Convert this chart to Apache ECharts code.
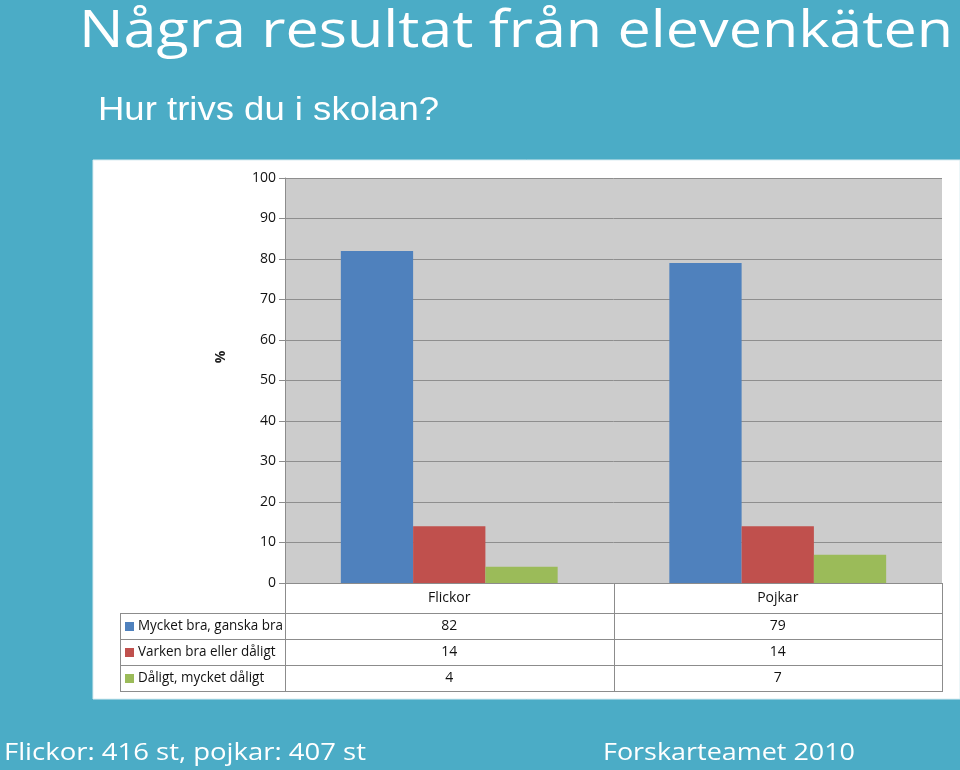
<!DOCTYPE html>
<html>
<head>
<meta charset="utf-8">
<script src="https://cdn.jsdelivr.net/npm/echarts@6/dist/echarts.min.js"></script>
<style>
html,body{margin:0;padding:0;background:#4BACC6;}
#chart{width:960px;height:770px;}
</style>
</head>
<body>
<div id="chart"></div>
<script>
// ---- data ----
const categories = ['Flickor', 'Pojkar'];
const seriesNames = ['Mycket bra, ganska bra', 'Varken bra eller dåligt', 'Dåligt, mycket dåligt'];
const mycketBra = [82, 79];
const varkenBra = [14, 14];
const daligt = [4, 7];
const yMin = 0, yMax = 100, yInterval = 10;
const titleText = 'Några resultat från elevenkäten';
const subtitleText = 'Hur trivs du i skolan?';
const footerLeft = 'Flickor: 416 st, pojkar: 407 st';
const footerRight = 'Forskarteamet 2010';
const yAxisName = '%';

// ---- layout / style ----
const colors = ['#4F81BD', '#C0504D', '#9BBB59'];
const seriesData = [mycketBra, varkenBra, daligt];
const GL = 285, GT = 178, GW = 657, GH = 405;
const GB = GT + GH;
const HEADER_BOTTOM = 613, ROW_H = 26, TABLE_LEFT = 120;
const lineCol = '#8c8c8c';
const FONT = '"Open Sans", "Noto Sans", sans-serif';

const mctx = document.createElement('canvas').getContext('2d');
function fit(text, font, target) {
  mctx.font = font;
  return target / mctx.measureText(text).width;
}

function textEl(text, x, yMid, size, family, scaleX, color, weight) {
  return {
    type: 'text', x: x, y: yMid, scaleX: scaleX, z: 10,
    style: {
      text: text, fill: color || '#fff', fontSize: size, fontFamily: family, fontWeight: weight || 'normal',
      align: 'left', verticalAlign: 'middle', textAlign: 'left', textVerticalAlign: 'middle'
    }
  };
}
function scaledText(text, x, yMid, size, family, target) {
  return textEl(text, x, yMid, size, family, fit(text, size + 'px ' + family, target));
}

const graphic = [];
// white panel
graphic.push({ type: 'rect', z: -10, shape: { x: 93, y: 160, width: 867, height: 539 },
  style: { fill: '#ffffff', stroke: '#d9ecf1', lineWidth: 1 } });
// titles
graphic.push(scaledText(titleText, 79, 32, 52, FONT, 874));
graphic.push(scaledText(subtitleText, 98, 111, 33, '"Liberation Sans", Arial, sans-serif', 341));
graphic.push(scaledText(footerLeft, 4, 753, 24, FONT, 362));
graphic.push(scaledText(footerRight, 603, 753, 24, FONT, 252));
// y axis name
graphic.push({ type: 'text', x: 221, y: 357, rotation: Math.PI / 2, z: 10,
  style: { text: yAxisName, fill: '#222', fontSize: 14, fontWeight: 'bold', fontFamily: FONT,
    align: 'center', verticalAlign: 'middle', textAlign: 'center', textVerticalAlign: 'middle' } });

// data table
const colW = GW / categories.length;
const tableBottom = HEADER_BOTTOM + ROW_H * seriesNames.length;
function hline(x1, x2, y) {
  graphic.push({ type: 'line', z: 5, shape: { x1: x1, y1: y + 0.5, x2: x2, y2: y + 0.5 },
    style: { stroke: lineCol, lineWidth: 1 } });
}
function vline(x, y1, y2) {
  graphic.push({ type: 'line', z: 5, shape: { x1: x + 0.5, y1: y1, x2: x + 0.5, y2: y2 },
    style: { stroke: lineCol, lineWidth: 1 } });
}
for (let r = 0; r <= seriesNames.length; r++) {
  hline(TABLE_LEFT, GL + GW, HEADER_BOTTOM + r * ROW_H);
}
vline(TABLE_LEFT, HEADER_BOTTOM, tableBottom + 1);
vline(GL, GB, tableBottom + 1);
for (let c = 1; c <= categories.length; c++) {
  vline(Math.round(GL + c * colW), GB, tableBottom + 1);
}
const labelScale = fit(seriesNames[0], '14px ' + FONT, 145);
seriesNames.forEach(function (name, i) {
  const yc = HEADER_BOTTOM + i * ROW_H + ROW_H / 2 + 0.5;
  graphic.push({ type: 'rect', z: 6, shape: { x: 125, y: Math.round(yc) - 5, width: 9, height: 9 },
    style: { fill: colors[i] } });
  graphic.push(textEl(name, 138, yc, 14, FONT, labelScale, '#111'));
  categories.forEach(function (cat, j) {
    graphic.push({ type: 'text', x: GL + colW * (j + 0.5), y: yc, z: 6,
      style: { text: String(seriesData[i][j]), fill: '#111', fontSize: 14, fontFamily: FONT,
        align: 'center', verticalAlign: 'middle', textAlign: 'center', textVerticalAlign: 'middle' } });
  });
});

const chart = echarts.init(document.getElementById('chart'), null, { renderer: 'canvas' });
chart.setOption({
  backgroundColor: '#4BACC6',
  animation: false,
  grid: { left: GL, top: GT, width: GW, height: GH, show: true, backgroundColor: '#CCCCCC', borderWidth: 0 },
  xAxis: {
    type: 'category', data: categories,
    axisLine: { show: true, lineStyle: { color: lineCol, width: 1 } },
    axisTick: { show: false },
    axisLabel: { color: '#111', fontSize: 14, fontFamily: FONT, margin: 8 },
    splitLine: { show: false }
  },
  yAxis: {
    type: 'value', min: yMin, max: yMax, interval: yInterval,
    axisLine: { show: true, lineStyle: { color: lineCol, width: 1 } },
    axisTick: { show: true, length: 6, lineStyle: { color: lineCol } },
    axisLabel: { color: '#111', fontSize: 14, fontFamily: FONT, margin: 9 },
    splitLine: { show: true, lineStyle: { color: '#8e8e8e', width: 1 } }
  },
  series: seriesNames.map(function (name, i) {
    return {
      name: name, type: 'bar', data: seriesData[i],
      barGap: '0%', barCategoryGap: '34%',
      itemStyle: { color: colors[i] }
    };
  }),
  graphic: graphic
});
</script>
</body>
</html>
